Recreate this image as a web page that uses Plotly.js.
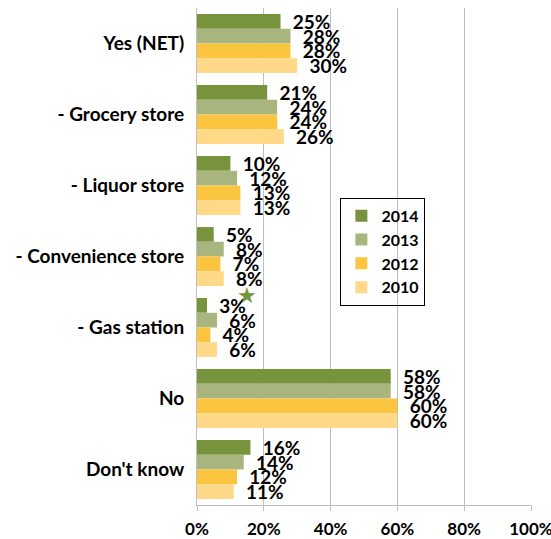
<!DOCTYPE html>
<html>
<head>
<meta charset="utf-8">
<script src="https://cdn.plot.ly/plotly-3.0.1.min.js"></script>
<style>html,body{margin:0;padding:0;background:#fff;}#chart{width:551px;height:539px;}</style>
</head>
<body>
<div id="chart"></div>
<script>
const categories = ["Yes (NET)", "- Grocery store", "- Liquor store", "- Convenience store", "- Gas station", "No", "Don't know"];
const years = ["2014", "2013", "2012", "2010"];
const v2014 = [25, 21, 10, 5, 3, 58, 16];
const v2013 = [28, 24, 12, 8, 6, 58, 14];
const v2012 = [28, 24, 13, 7, 4, 60, 12];
const v2010 = [30, 26, 13, 8, 6, 60, 11];
const xTicks = [0, 20, 40, 60, 80, 100];
const colors = ["#77933C", "#A9B57F", "#FCC53F", "#FFD987"];

const series = [v2014, v2013, v2012, v2010];
const FONT = "Lato, 'Open Sans', 'DejaVu Sans', sans-serif";

const traces = series.map((vals, i) => ({
  type: "bar",
  orientation: "h",
  name: years[i],
  y: categories,
  x: vals,
  marker: { color: colors[i] },
  text: vals.map(v => "\u00A0\u00A0" + v + "%"),
  textposition: "outside",
  constraintext: "none",
  cliponaxis: false,
  textfont: { family: FONT, size: 19, color: "#000", weight: "bold" },
  hoverinfo: "skip"
}));

const layout = {
  width: 551,
  height: 539,
  margin: { l: 197, r: 19, t: 8, b: 34 },
  paper_bgcolor: "#fff",
  plot_bgcolor: "#fff",
  barmode: "group",
  bargap: 0.17,
  bargroupgap: 0,
  showlegend: true,
  font: { family: FONT, color: "#000" },
  xaxis: {
    range: [0, 100.3],
    tickvals: xTicks,
    ticktext: xTicks.map(t => t + "%"),
    ticklabeloverflow: "allow",
    showgrid: true,
    gridcolor: "#BFBFBF",
    gridwidth: 1,
    zeroline: false,
    showline: true,
    linecolor: "#BFBFBF",
    ticks: "outside",
    ticklen: 5,
    tickcolor: "#BFBFBF",
    ticklabelstandoff: 4,
    tickfont: { family: FONT, size: 17, color: "#000", weight: "bold" },
    fixedrange: true
  },
  yaxis: {
    autorange: "reversed",
    type: "category",
    showline: true,
    linecolor: "#BFBFBF",
    showgrid: false,
    ticks: "",
    ticklabelstandoff: 8,
    tickfont: { family: FONT, size: 19, color: "#000", weight: "bold" },
    fixedrange: true
  },
  legend: {
    x: 0.428,
    y: 0.618,
    xanchor: "left",
    yanchor: "top",
    bgcolor: "rgba(255,255,255,0)",
    bordercolor: "#000",
    borderwidth: 1,
    itemwidth: 30,
    traceorder: "normal",
    font: { family: FONT, size: 16, color: "#000", weight: "bold" }
  },
  annotations: [{
    xref: "x", yref: "paper",
    x: 14.9, y: 0.4225,
    text: "\u2605",
    showarrow: false,
    font: { size: 22, color: "#77933C", family: "DejaVu Sans" }
  }]
};

Plotly.newPlot("chart", traces, layout, { displayModeBar: false, staticPlot: true });
</script>
</body>
</html>
